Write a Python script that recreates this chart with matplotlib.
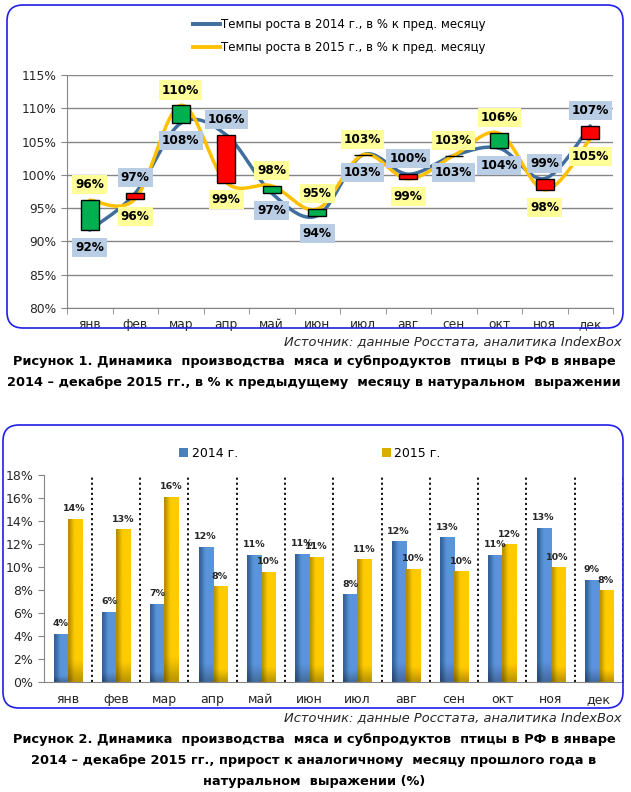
import numpy as np
import matplotlib
matplotlib.use("Agg")
import matplotlib.pyplot as plt
from matplotlib.patches import FancyBboxPatch, Patch
from matplotlib.lines import Line2D
from matplotlib.ticker import FixedLocator, FuncFormatter

# ---------------------------------------------------------------------
# DATA
# ---------------------------------------------------------------------

months = ["янв", "фев", "мар", "апр", "май", "июн",
          "июл", "авг", "сен", "окт", "ноя", "дек"]

# Темпы роста, % к предыдущему месяцу
growth_2014 = [91.7, 97.25, 107.75, 106.0, 97.25, 93.85,
               103.0, 100.1, 102.9, 104.0, 99.45, 107.35]
growth_2015 = [96.2, 96.4, 110.45, 98.85, 98.35, 94.85,
               103.0, 99.4, 102.9, 106.25, 97.75, 105.4]

# Прирост к аналогичному месяцу прошлого года, %
yoy_2014 = [4.2, 6.1, 6.8, 11.75, 11.05, 11.15,
            7.65, 12.25, 12.6, 11.05, 13.4, 8.9]
yoy_2015 = [14.2, 13.3, 16.1, 8.35, 9.6, 10.9,
            10.7, 9.85, 9.65, 12.0, 10.0, 8.0]

legend_top = ["Темпы роста в 2014 г., в % к пред. месяцу",
              "Темпы роста в 2015 г., в % к пред. месяцу"]
legend_bottom = ["2014 г.", "2015 г."]

source_txt = "Источник: данные Росстата, аналитика IndexBox"
caption1 = ["Рисунок 1. Динамика  производства  мяса и субпродуктов  птицы в РФ в январе",
            "2014 – декабре 2015 гг., в % к предыдущему  месяцу в натуральном  выражении"]
caption2 = ["Рисунок 2. Динамика  производства  мяса и субпродуктов  птицы в РФ в январе",
            "2014 – декабре 2015 гг., прирост к аналогичному  месяцу прошлого года в",
            "натуральном  выражении (%)"]

# ---------------------------------------------------------------------
# UTILITATS
# ---------------------------------------------------------------------

W, H = 631, 792


def fx(px):
    return px / W


def fy(py):
    return 1 - py / H


def catmull_rom(xs, ys, n=24):
    # suavitzat tipus Excel
    p = np.column_stack([xs, ys]).astype(float)
    p = np.vstack([p[0], p, p[-1]])
    out = []
    for i in range(1, len(p) - 2):
        p0, p1, p2, p3 = p[i - 1], p[i], p[i + 1], p[i + 2]
        t = np.linspace(0, 1, n, endpoint=False)[:, None]
        c = 0.5 * (2 * p1 + (-p0 + p2) * t
                   + (2 * p0 - 5 * p1 + 4 * p2 - p3) * t ** 2
                   + (-p0 + 3 * p1 - 3 * p2 + p3) * t ** 3)
        out.append(c)
    out.append(p[-2][None, :])
    out = np.vstack(out)
    return out[:, 0], out[:, 1]


def frame(fig, x0, y0, x1, y1):
    r = 16 / W
    box = FancyBboxPatch((fx(x0), fy(y1)), fx(x1) - fx(x0), fy(y0) - fy(y1),
                         boxstyle=f"round,pad=0,rounding_size={r}",
                         mutation_aspect=W / H,
                         transform=fig.transFigure, facecolor="none",
                         edgecolor="#1F1FE8", linewidth=1.2, zorder=0)
    fig.patches.append(box)


def gradient_bars(ax, bars, dark, light):
    dark = np.array(matplotlib.colors.to_rgb(dark))
    light = np.array(matplotlib.colors.to_rgb(light))
    t = np.linspace(0, 1, 64)
    s = np.clip(t / 0.5, 0, 1)
    s = s * s * (3 - 2 * s)
    row = dark[None, :] + (light - dark)[None, :] * s[:, None]
    for b in bars:
        x0, y0 = b.get_x(), b.get_y()
        x1, y1 = x0 + b.get_width(), y0 + b.get_height()
        # ombra inferior
        vy = np.linspace(0, 1, 32)
        shade = 1 - 0.25 * np.clip(1 - vy / 0.12, 0, 1)
        img = row[None, :, :] * shade[:, None, None]
        im = ax.imshow(img, extent=[x0, x1, y0, y1], origin="lower",
                       aspect="auto", zorder=2, interpolation="bilinear")
        im.set_clip_path(b)


# ---------------------------------------------------------------------
# FIGURA
# ---------------------------------------------------------------------

plt.rcParams["font.family"] = ["DejaVu Sans"]
fig = plt.figure(figsize=(W / 100, H / 100), dpi=100)
fig.patch.set_facecolor("white")

frame(fig, 7, 5, 623, 328)
frame(fig, 3, 425, 623, 708)

x = np.arange(len(months))
c14 = "#3F6E9F"
c15 = "#FFC000"

# ---------------- Рисунок 1 ----------------
ax1 = fig.add_axes([fx(67), fy(308), fx(613) - fx(67), fy(75) - fy(308)])
ax1.set_facecolor("none")

sx, sy = catmull_rom(x, growth_2014)
ax1.plot(sx, sy, color=c14, linewidth=2.5, zorder=3, solid_capstyle="round")
sx, sy = catmull_rom(x, growth_2015)
ax1.plot(sx, sy, color=c15, linewidth=2.5, zorder=3.1, solid_capstyle="round")

lo = np.minimum(growth_2014, growth_2015)
diff = np.array(growth_2015) - np.array(growth_2014)
cols = ["#00B050" if d > 0 else "#FF0000" for d in diff]
ax1.bar(x, np.abs(diff), bottom=lo, width=0.39, color=cols,
        edgecolor="black", linewidth=1.0, zorder=4)

for i in range(len(months)):
    v14, v15 = growth_2014[i], growth_2015[i]
    up15 = v15 >= v14
    for v, bg, up in ((v14, "#B9CDE5", not up15), (v15, "#FFFF99", up15)):
        ax1.annotate(f"{v:.0f}%", (i, v), xytext=(0, 11 if up else -12.5),
                     textcoords="offset points", ha="center", va="center",
                     fontsize=8.7, fontweight="bold", color="black", zorder=6,
                     bbox=dict(boxstyle="square,pad=0.25", facecolor=bg,
                               edgecolor="none"))

ax1.set_xlim(-0.5, len(months) - 0.5)
ax1.set_ylim(80, 115)
ax1.set_yticks(np.arange(80, 116, 5))
ax1.yaxis.set_major_formatter(FuncFormatter(lambda v, _: f"{v:.0f}%"))
ax1.set_xticks(x)
ax1.set_xticklabels(months)
ax1.xaxis.set_minor_locator(FixedLocator(np.arange(-0.5, len(months), 1)))
ax1.tick_params(axis="x", which="major", length=0, pad=7, labelsize=8.8, colors="#262626")
ax1.tick_params(axis="x", which="minor", length=4, color="#868686")
ax1.tick_params(axis="y", length=4, color="#868686", labelsize=8.8, labelcolor="#262626")
ax1.grid(True, axis="y", color="#868686", linewidth=1.0, zorder=0)
ax1.set_axisbelow(True)
for s in ("top", "right"):
    ax1.spines[s].set_visible(False)
for s in ("left", "bottom"):
    ax1.spines[s].set_color("#868686")

h1 = [Line2D([], [], color=c14, linewidth=2.8), Line2D([], [], color=c15, linewidth=2.8)]
fig.legend(h1, legend_top, loc="center", bbox_to_anchor=(fx(339), fy(36)),
           frameon=False, fontsize=8.5, handlelength=2.3, handletextpad=0.1,
           labelspacing=0.85, borderpad=0)

# ---------------- Рисунок 2 ----------------
ax2 = fig.add_axes([fx(43.5), fy(682.3), fx(623) - fx(43.5), fy(475) - fy(682.3)])
ax2.set_facecolor("none")

bw = 0.29
b14 = ax2.bar(x - bw / 2, yoy_2014, width=bw, color="#558ED5", zorder=1.5)
b15 = ax2.bar(x + bw / 2, yoy_2015, width=bw, color="#FFCC00", zorder=1.5)
gradient_bars(ax2, b14, "#34619A", "#5A94DA")
gradient_bars(ax2, b15, "#B58E00", "#FFCC00")

for bars, vals in ((b14, yoy_2014), (b15, yoy_2015)):
    for b, v in zip(bars, vals):
        ax2.annotate(f"{v:.0f}%", (b.get_x() + b.get_width() / 2, v),
                     xytext=(0, 4), textcoords="offset points",
                     ha="center", va="bottom", fontsize=6.8,
                     fontweight="bold", color="#262626", zorder=5)

for k in range(1, len(months) + 1):
    ax2.axvline(k - 0.5, ymin=0, ymax=1, color="black", linestyle=(0, (1.2, 1.6)),
                linewidth=1.3, zorder=1)

ax2.set_xlim(-0.5, len(months) - 0.5)
ax2.set_ylim(0, 18)
ax2.set_yticks(np.arange(0, 19, 2))
ax2.yaxis.set_major_formatter(FuncFormatter(lambda v, _: f"{v:.0f}%"))
ax2.set_xticks(x)
ax2.set_xticklabels(months)
ax2.tick_params(axis="x", length=0, pad=8, labelsize=9, colors="#262626")
ax2.tick_params(axis="y", length=4, color="#868686", labelsize=9, labelcolor="#262626")
for s in ("top", "right"):
    ax2.spines[s].set_visible(False)
for s in ("left", "bottom"):
    ax2.spines[s].set_color("#868686")

h2 = [Patch(facecolor="#4A7EC0"), Patch(facecolor="#D9AE00")]
fig.legend(h2, legend_bottom, loc="center", bbox_to_anchor=(fx(310), fy(453)),
           ncol=2, frameon=False, fontsize=9, handlelength=0.7, handleheight=0.7,
           handletextpad=0.3, columnspacing=11.5, borderpad=0)

# ---------------- Тексты ----------------
for yy in (342, 718):
    fig.text(fx(622), fy(yy), source_txt, ha="right", va="center",
             fontsize=9.4, style="italic", color="#262626")

for i, line in enumerate(caption1):
    fig.text(fx(314), fy(362 + 20.5 * i), line, ha="center", va="center",
             fontsize=9.3, fontweight="bold", color="black")
for i, line in enumerate(caption2):
    fig.text(fx(314), fy(739 + 21.5 * i), line, ha="center", va="center",
             fontsize=9.3, fontweight="bold", color="black")

fig.savefig("out.png", dpi=100)
